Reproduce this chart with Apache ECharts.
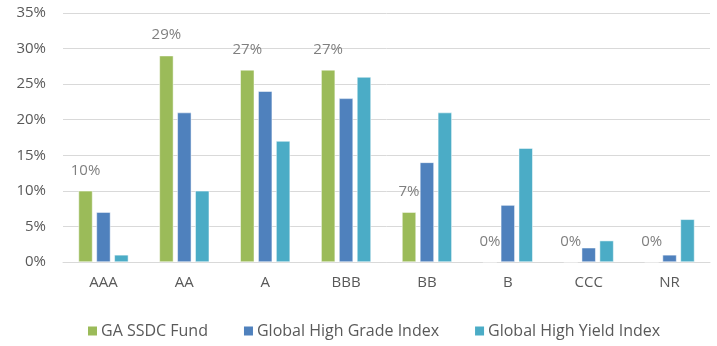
<!DOCTYPE html>
<html>
<head>
<meta charset="utf-8">
<script src="https://cdn.jsdelivr.net/npm/echarts@6/dist/echarts.min.js"></script>
<style>
  html, body { margin: 0; padding: 0; background: #fff; }
  #chart { width: 717px; height: 346px; }
</style>
</head>
<body>
<div id="chart"></div>
<script>
  var categories = ['AAA', 'AA', 'A', 'BBB', 'BB', 'B', 'CCC', 'NR']
  var fund = [10, 29, 27, 27, 7, 0, 0, 0]
  var highGrade = [7, 21, 24, 23, 14, 8, 2, 1]
  var highYield = [1, 10, 17, 26, 21, 16, 3, 6]
  var seriesNames = ['GA SSDC Fund', 'Global High Grade Index', 'Global High Yield Index']

  var font = 'Open Sans'
  var chart = echarts.init(document.getElementById('chart'))

  function bar(name, data, color, label) {
    return {
      name: name,
      type: 'bar',
      barWidth: 14,
      barGap: '28%',
      data: data,
      itemStyle: { color: color, borderColor: '#fff', borderWidth: 0.5 },
      label: label ? {
        show: true,
        position: 'top',
        distance: 13,
        formatter: '{c}%',
        color: '#7f7f7f',
        fontFamily: font,
        fontSize: 15
      } : { show: false }
    }
  }

  chart.setOption({
    animation: false,
    textStyle: { fontFamily: font },
    grid: { left: 63, right: 7, top: 13, bottom: 84 },
    legend: {
      data: seriesNames,
      bottom: 2,
      left: 81,
      itemWidth: 11,
      itemHeight: 11,
      itemGap: 34,
      icon: 'rect',
      textStyle: { color: '#595959', fontSize: 16, fontFamily: font, padding: [0, 0, 0, -2] }
    },
    xAxis: {
      type: 'category',
      data: categories,
      axisLine: { lineStyle: { color: '#d9d9d9' } },
      axisTick: { show: false },
      axisLabel: { color: '#595959', fontSize: 15, margin: 13, fontFamily: font }
    },
    yAxis: {
      type: 'value',
      min: 0,
      max: 35,
      interval: 5,
      axisLine: { show: false },
      axisTick: { show: false },
      axisLabel: { color: '#595959', fontSize: 15, margin: 17, formatter: '{value}%', fontFamily: font },
      splitLine: { lineStyle: { color: '#d9d9d9', width: 1 } }
    },
    series: [
      bar(seriesNames[0], fund, '#9bbb59', true),
      bar(seriesNames[1], highGrade, '#4f81bd', false),
      bar(seriesNames[2], highYield, '#4bacc6', false)
    ]
  })
</script>
</body>
</html>
